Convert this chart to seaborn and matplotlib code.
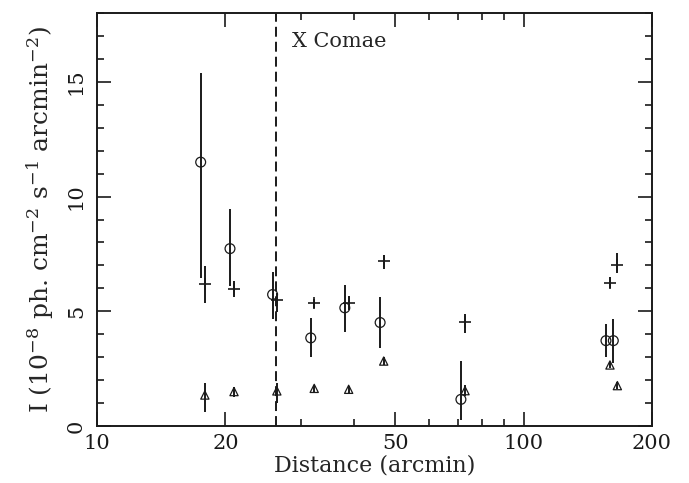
import numpy as np
import pandas as pd
import matplotlib
matplotlib.use('Agg')
import matplotlib.pyplot as plt
from matplotlib.ticker import FixedLocator, NullFormatter, MultipleLocator
import seaborn as sns

# 圆圈数据
circ_x = [17.5, 20.5, 25.8, 31.7, 38.1, 46.1, 71.3, 156.0, 162.3]
circ_y = [11.5, 7.73, 5.73, 3.84, 5.15, 4.51, 1.16, 3.72, 3.72]
circ_lo = [6.44, 6.10, 4.65, 3.02, 4.09, 3.39, 0.26, 3.02, 2.76]
circ_hi = [15.4, 9.46, 6.73, 4.70, 6.15, 5.61, 2.85, 4.45, 4.67]

# 十字数据
plus_x = [17.9, 20.95, 26.4, 32.3, 38.9, 47.0, 72.9, 159.4, 165.9]
plus_y = [6.19, 5.96, 5.49, 5.35, 5.35, 7.17, 4.52, 6.25, 7.02]
plus_lo = [5.35, 5.64, 4.99, 5.15, 5.05, 6.83, 4.07, 6.00, 6.66]
plus_hi = [6.98, 6.34, 5.80, 5.55, 5.65, 7.46, 4.88, 6.51, 7.53]

# 三角数据
tri_x = [17.9, 20.95, 26.4, 32.3, 38.9, 47.0, 72.9, 159.4, 165.9]
tri_y = [1.35, 1.50, 1.53, 1.64, 1.60, 2.83, 1.54, 2.66, 1.76]
tri_lo = [0.62, 1.28, 1.00, 1.50, 1.45, 2.68, 1.30, 2.52, 1.62]
tri_hi = [1.86, 1.71, 1.88, 1.78, 1.75, 3.00, 1.78, 2.80, 1.90]

x_comae = 26.3

sns.set_theme(style='ticks')
plt.rcParams['font.family'] = ['DejaVu Serif']
plt.rcParams['mathtext.fontset'] = 'dejavuserif'

fig = plt.figure(figsize=(6.89, 4.83), dpi=100)
ax = fig.add_axes([97 / 689, 1 - 426 / 483, (652 - 97) / 689, (426 - 13) / 483])

series = [
    (circ_x, circ_y, circ_lo, circ_hi, 'o'),
    (plus_x, plus_y, plus_lo, plus_hi, '+'),
    (tri_x, tri_y, tri_lo, tri_hi, '^'),
]

for xs, ys, lo, hi, mk in series:
    df = pd.DataFrame({'x': xs, 'y': ys, 'lo': lo, 'hi': hi})
    ax.vlines(df['x'], df['lo'], df['hi'], color='k', linewidth=1.4, zorder=2)
    if mk == '+':
        sns.scatterplot(data=df, x='x', y='y', marker='+', color='k', s=70,
                        linewidth=1.2, ax=ax, zorder=3, legend=False)
    else:
        sns.scatterplot(data=df, x='x', y='y', marker=mk, facecolor='none',
                        edgecolor='k', s=50 if mk == 'o' else 35,
                        linewidth=0.9, ax=ax, zorder=3, legend=False)

ax.axvline(x_comae, color='k', linestyle=(0, (5.1, 2.6)), linewidth=1.4, zorder=1)
ax.text(28.7, 16.75, 'X Comae', fontsize=15, va='center', ha='left')

ax.set_xscale('log')
ax.set_xlim(10, 200)
ax.set_ylim(0, 18)
ax.xaxis.set_major_locator(FixedLocator([10, 20, 50, 100, 200]))
ax.xaxis.set_minor_locator(FixedLocator([30, 40, 60, 70, 80, 90]))
ax.xaxis.set_minor_formatter(NullFormatter())
ax.set_xticklabels(['10', '20', '50', '100', '200'])
ax.yaxis.set_major_locator(MultipleLocator(5))
ax.yaxis.set_minor_locator(MultipleLocator(1))

ax.tick_params(which='both', direction='in', top=True, right=True, colors='k',
               labelsize=15, width=1.2)
ax.tick_params(which='major', length=10)
ax.tick_params(which='minor', length=5)
ax.tick_params(axis='y', labelrotation=90, pad=8)
ax.tick_params(axis='x', pad=6)
for lab in ax.get_yticklabels():
    lab.set_va('center')
for sp in ax.spines.values():
    sp.set_linewidth(1.4)
    sp.set_color('k')

ax.set_xlabel('Distance (arcmin)', fontsize=16, labelpad=1)
ax.set_ylabel(r'I (10$^{-8}$ ph. cm$^{-2}$ s$^{-1}$ arcmin$^{-2}$)', fontsize=18, labelpad=8)

fig.savefig('out.png', dpi=100)
